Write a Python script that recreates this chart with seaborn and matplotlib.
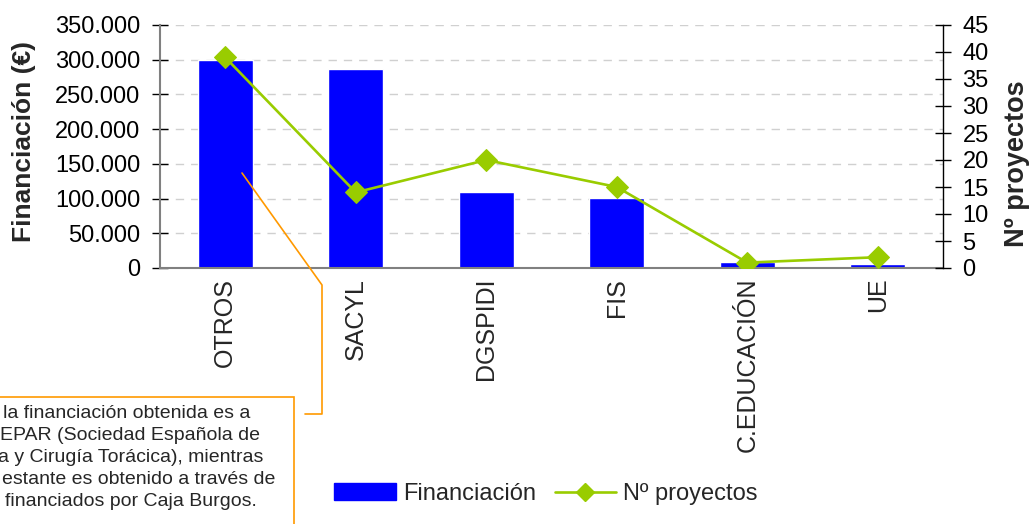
import numpy as np
import matplotlib
matplotlib.use("Agg")
import matplotlib.pyplot as plt
import seaborn as sns
from matplotlib.ticker import FuncFormatter, FixedLocator
from matplotlib.patches import Patch, Rectangle
from matplotlib.lines import Line2D

# data
categories = ["OTROS", "SACYL", "DGSPIDI", "FIS", "C.EDUCACIÓN", "UE"]
financiacion = [300000, 287000, 109500, 101000, 8200, 6000]
n_proyectos = [39, 14, 20, 15, 1, 2]

callout_lines = [
    "la financiación obtenida es a",
    "EPAR (Sociedad Española de",
    "a y Cirugía Torácica), mientras",
    "estante es obtenido a través de",
    "financiados por Caja Burgos.",
]
callout_x = [3, 0, -2, 2, 5]

bar_color = "#0000FF"
line_color = "#99CC00"
orange = "#FF9900"

sns.set_style("white")
plt.rcParams["font.family"] = ["Liberation Sans", "DejaVu Sans"]

W, H = 1031, 524
fig = plt.figure(figsize=(W / 100, H / 100), dpi=100)
ax = fig.add_axes([160 / W, 1 - 268 / H, 783 / W, 243 / H])

x = np.arange(len(categories))
sns.barplot(x=x, y=financiacion, color=bar_color, width=0.42, saturation=1,
            ax=ax, native_scale=True, zorder=2)
ax.set_xlim(-0.5, len(categories) - 0.5)
ax.set_ylim(0, 350000)

ax.yaxis.set_major_locator(FixedLocator(np.arange(0, 350001, 50000)))
ax.yaxis.set_major_formatter(FuncFormatter(lambda v, p: f"{int(v):,}".replace(",", ".")))
ax.tick_params(axis="y", direction="inout", length=12, width=1, colors="black",
               labelsize=17, pad=8)
for v in np.arange(50000, 350001, 50000):
    ax.axhline(v, color="#D0D0D0", lw=1, ls=(0, (6, 5)), zorder=0)

ax.set_xticks(x)
ax.set_xticklabels(categories, rotation=90, fontsize=18, va="top")
ax.tick_params(axis="x", length=0, pad=7)
ax.set_xticks(np.arange(-0.5, len(categories)), minor=True)
ax.tick_params(axis="x", which="minor", direction="inout", length=14, width=1, color="black")

for s in ["top", "right"]:
    ax.spines[s].set_visible(False)
for s in ["left", "bottom"]:
    ax.spines[s].set_color("#808080")
    ax.spines[s].set_linewidth(1.5)

ax.set_ylabel("Financiación (€)", fontsize=19, fontweight="bold")
ax.yaxis.set_label_coords(-0.158, 0.52)
ax.set_xlabel("")

ax2 = ax.twinx()
sns.lineplot(x=x, y=n_proyectos, ax=ax2, color=line_color, lw=1.9, marker="D",
             markersize=11, markeredgecolor=line_color, zorder=3)
ax2.set_ylim(0, 45)
ax2.set_yticks(np.arange(0, 46, 5))
ax2.tick_params(axis="y", direction="inout", length=12, width=1, colors="black",
                labelsize=17, pad=8)
for s in ["top", "left", "bottom"]:
    ax2.spines[s].set_visible(False)
ax2.spines["right"].set_color("black")
ax2.spines["right"].set_linewidth(1)
ax2.set_ylabel("Nº proyectos", fontsize=19.5, fontweight="bold", rotation=90)
ax2.yaxis.set_label_coords(1.078, 0.428)

# callout box with connector
fig.add_artist(Rectangle((-5 / W, -10 / H), 299 / W, (H - 397 + 10) / H,
                         transform=fig.transFigure, facecolor="white",
                         edgecolor=orange, lw=1.2, zorder=5))
px = [242, 322, 322, 305]
py = [173, 285, 414, 414]
fig.add_artist(Line2D([p / W for p in px], [1 - p / H for p in py],
                      transform=fig.transFigure, color=orange, lw=1.2, zorder=5))
for i, (t, tx) in enumerate(zip(callout_lines, callout_x)):
    fig.text(tx / W, 1 - (414 + 22 * i) / H, t, fontsize=14, ha="left",
             va="center", zorder=6)

handles = [Patch(facecolor=bar_color, edgecolor=bar_color),
           Line2D([], [], color=line_color, lw=1.9, marker="D", markersize=9)]
fig.legend(handles, ["Financiación", "Nº proyectos"], loc="center",
           bbox_to_anchor=(546 / W, 1 - 494 / H), ncol=2, frameon=False,
           fontsize=17, handlelength=2.6, handleheight=0.7, handletextpad=0.3,
           columnspacing=0.8)

fig.savefig("out.png", dpi=100)
